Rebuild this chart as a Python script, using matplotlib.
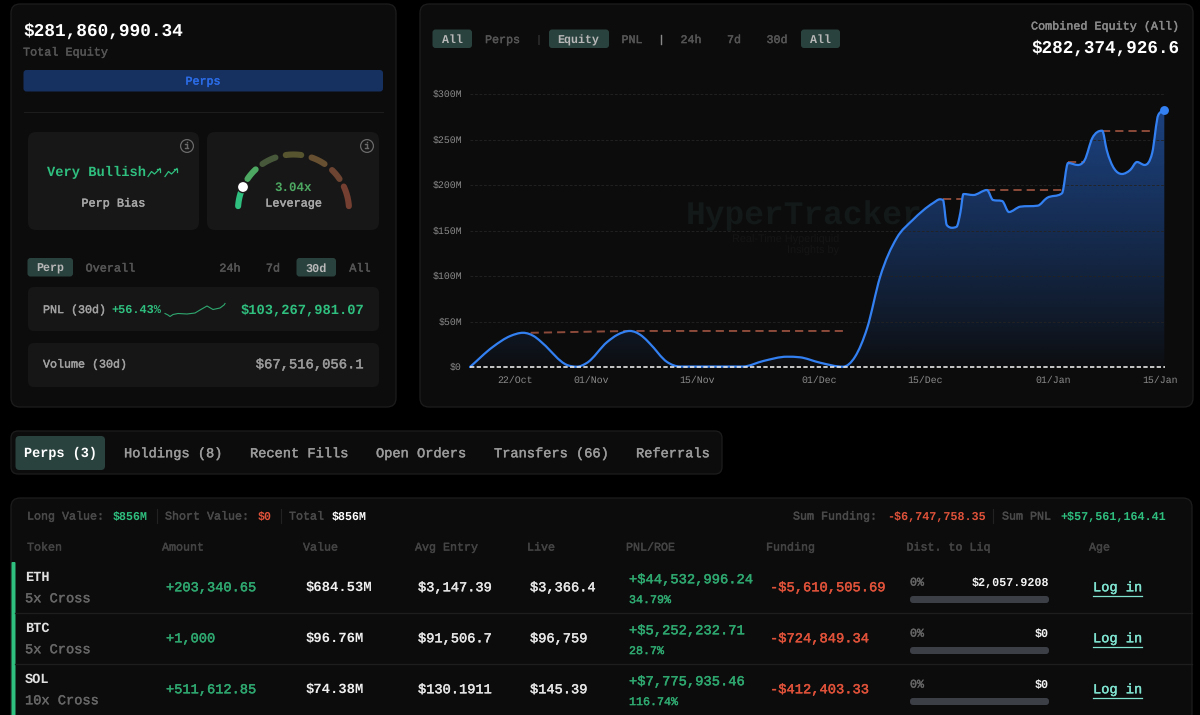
import numpy as np
import matplotlib
matplotlib.use("Agg")
import matplotlib.pyplot as plt
import matplotlib.patheffects as pe
from matplotlib.patches import FancyBboxPatch, PathPatch, Circle
from matplotlib.path import Path

plt.rcParams["text.hinting"] = "no_hinting"

# ---------- data ----------
days = [0, 3.0, 5.3, 7.0, 8.6, 9.6, 12.8, 14.1, 15.4, 18.1, 19.4, 21.1, 22.7, 23.7, 26.0, 27.7, 36.0, 38.7, 41.8, 43.5, 46.2,
        49.2, 50.8, 52.4, 54.1, 56.3, 58.4, 61.1, 62.0, 62.4, 62.9, 63.6, 64.2, 64.7, 65.1, 66.4, 68.2, 69.0,
        70.2, 71.1, 72.6, 74.9, 76.1, 78.1, 78.9, 80.2, 81.1, 82.1, 83.4, 84.0, 86.0, 87.1, 88.0, 89.0,
        90.0, 90.8, 91.6]
equity = [0, 22.0, 34.0, 37.6, 33.0, 26.0, 2.2, 0.3, 4.4, 27.5, 35.2, 39.6, 34.0, 26.0, 5.5, 0.5, 0.5, 6.6, 11.3, 10.7, 4.7,
          0.3, 11.3, 42.9, 98.9, 141.8, 161.5, 180.2, 184.3, 183.5, 156.0, 153.0, 154.2, 170.0, 190.1, 189.0, 194.5, 183.5,
          182.4, 170.3, 176.2, 177.3, 185.7, 190.9, 224.2, 222.0, 227.5, 251.6, 259.7, 238.5, 212.1, 216.5, 225.3, 222.0,
          235.2, 276.9, 282.4]
peak_days = [[8.0, 21.1, 49.2], [62.4, 64.9], [68.2, 78.1], [78.9, 81.1], [83.4, 89.7]]
peak_vals = [[37.6, 39.6, 39.6], [184.3, 184.3], [194.5, 194.5], [224.8, 224.8], [259.7, 259.7]]
y_ticks = [0, 50, 100, 150, 200, 250, 300]
y_labels = ["$0", "$50M", "$100M", "$150M", "$200M", "$250M", "$300M"]
x_ticks = [6, 16, 30, 46, 60, 77, 91]
x_labels = ["22/Oct", "01/Nov", "15/Nov", "01/Dec", "15/Dec", "01/Jan", "15/Jan"]

tabs = ["Holdings (8)", "Recent Fills", "Open Orders", "Transfers (66)", "Referrals"]
tab_x = [124, 250, 376, 494, 636]
headers = ["Token", "Amount", "Value", "Avg Entry", "Live", "PNL/ROE", "Funding", "Dist. to Liq", "Age"]
header_x = [27, 162, 303, 415, 527, 626, 766, 906.5, 1089]
tokens = ["ETH", "BTC", "SOL"]
margin = ["5x Cross", "5x Cross", "10x Cross"]
amounts = ["+203,340.65", "+1,000", "+511,612.85"]
values = ["$684.53M", "$96.76M", "$74.38M"]
entries = ["$3,147.39", "$91,506.7", "$130.1911"]
lives = ["$3,366.4", "$96,759", "$145.39"]
pnls = ["+$44,532,996.24", "+$5,252,232.71", "+$7,775,935.46"]
roes = ["34.79%", "28.7%", "116.74%"]
fundings = ["-$5,610,505.69", "-$724,849.34", "-$412,403.33"]
liqs = ["$2,057.9208", "$0", "$0"]

# ---------- style ----------
BG = "#0c0c0c"; CARD = "#171717"; PILL = "#2a423e"; GREEN = "#2fbf7f"; GREEN2 = "#2fa870"
RED = "#e0523a"; DIM = "#555555"; MID = "#9a9a9a"; BLUE = "#3380f2"; FONT = "Liberation Mono"
EDGE = "#1d1d1d"

fig = plt.figure(figsize=(12, 7.15), dpi=100, facecolor="#000000")
bgax = fig.add_axes([0, 0, 1, 1], zorder=0)
bgax.set_xlim(0, 1200); bgax.set_ylim(715, 0); bgax.axis("off")
fgax = fig.add_axes([0, 0, 1, 1], zorder=1)
fgax.set_xlim(0, 1200); fgax.set_ylim(715, 0); fgax.axis("off"); fgax.patch.set_alpha(0)


def box(x0, y0, x1, y1, fc, r=6, ec="none", lw=0, z=1):
    bgax.add_patch(FancyBboxPatch((x0, y0), x1 - x0, y1 - y0,
                                  boxstyle=f"round,pad=0,rounding_size={r}", fc=fc, ec=ec, lw=lw, zorder=z))


def T(x, y, s, cw=7.05, c="#ffffff", ha="left", bold=False, ax=fgax, fam=FONT, z=5):
    t = ax.text(x, y - 0.8, s, fontsize=cw / 0.6 * 0.72, color=c, ha=ha, va="center_baseline",
                family=fam, fontweight="bold" if bold else "normal", zorder=z)
    if not bold:
        t.set_path_effects([pe.withStroke(linewidth=0.3, foreground=c)])


# panels
box(11, 4, 396, 407, BG, r=9, ec=EDGE, lw=0.9)
box(420, 4, 1193, 407, BG, r=9, ec=EDGE, lw=0.9)
box(11, 431, 722, 474, BG, r=7, ec=EDGE, lw=0.9)
box(11, 498, 1192, 740, BG, r=9, ec=EDGE, lw=0.9)

# ---------- left panel ----------
T(23, 30, "$281,860,990.34", 10.67, bold=True)
T(23, 52, "Total Equity", 7.08, "#555555")
box(23.5, 70, 383, 91.5, "#16305f", r=3, z=2)
T(203, 81, "Perps", 7.0, "#2b6ce6", ha="center")
fgax.plot([24, 383], [111.5, 111.5], color=EDGE, lw=0.8)
box(28, 132, 199, 230, CARD, r=8, z=2)
box(207, 132, 379, 230, CARD, r=8, z=2)
for cx in (187, 367):
    fgax.add_patch(Circle((cx, 146), 6.4, fc="none", ec="#6a6a6a", lw=0.9))
    T(cx, 146.5, "i", 5.5, "#6a6a6a", ha="center")
T(47, 172, "Very Bullish", 8.25, GREEN, bold=True)
for ox in (148, 165):
    fgax.plot(np.array([0, 3.5, 6.5, 12]) + ox, [176.5, 171.5, 174, 168.5], color=GREEN, lw=0.9)
    fgax.plot(np.array([8.5, 12, 12]) + ox, [168.5, 168.5, 172], color=GREEN, lw=0.9)
T(113.5, 203, "Perp Bias", 7.1, "#a8a8a8", ha="center")

# gauge
segs = [(176, 154, "#2fbf7f"), (146, 133, "#4da862"), (124, 109, "#47583a"), (98, 82, "#56552f"),
        (71, 56, "#674f31"), (46, 34, "#6d4431"), (25, 4, "#743f31")]
for a0, a1, col in segs:
    a = np.radians(np.linspace(a0, a1, 24))
    fgax.plot(293.5 + 55.5 * np.cos(a), 210 - 55.5 * np.sin(a), color=col, lw=4.4, solid_capstyle="round", zorder=3)
fgax.add_patch(Circle((243, 187), 5.6, fc="#ffffff", ec="#1a1a1a", lw=1.0, zorder=4))
T(293.5, 187, "3.04x", 7.5, "#4da862", ha="center", bold=True)
T(293.5, 203, "Leverage", 7.08, "#a8a8a8", ha="center")

box(27.5, 258, 73, 276.5, PILL, r=3, z=2)
T(50, 268, "Perp", 6.95, "#b8b8b8", ha="center", bold=True)
T(110.5, 268, "Overall", 7.1, DIM, ha="center")
T(230, 268, "24h", 7.1, DIM, ha="center")
T(273, 268, "7d", 7.1, DIM, ha="center")
box(296.5, 258, 336, 276.5, PILL, r=3, z=2)
T(316, 268, "30d", 7.1, "#b8b8b8", ha="center", bold=True)
T(360, 268, "All", 7.1, DIM, ha="center")

box(28, 287, 379, 331, "#161616", r=6, z=2)
T(43, 309.5, "PNL (30d)", 7.0, "#a0a0a0")
T(111, 309.5, "+56.43%", 7.1, GREEN, bold=True)
spark_x = [165, 168, 170, 173, 178, 187, 195, 200, 207, 213, 220, 224, 225]
spark_y = [313.5, 315, 316.5, 314.5, 313.5, 314, 313, 310, 306, 309.5, 308, 305, 303.5]
fgax.plot(spark_x, spark_y, color=GREEN2, lw=0.8)
T(364, 309, "$103,267,981.07", 8.27, GREEN, ha="right", bold=True)
box(28, 343, 379, 387, "#161616", r=6, z=2)
T(43, 364, "Volume (30d)", 7.0, "#a0a0a0")
T(364, 364, "$67,516,056.1", 8.3, MID, ha="right")

# ---------- chart header ----------
for x0, x1, cx, s in [(432.5, 472, 452.5, "All"), (549, 609, 578.5, "Equity"), (801, 840, 820.5, "All")]:
    box(x0, 29.5, x1, 48, PILL, r=3, z=2)
    T(cx, 39.5, s, 7.0, "#b8b8b8", ha="center", bold=True)
for cx, s in [(502.5, "Perps"), (539, "|"), (632, "PNL"), (661.5, "|"), (691, "24h"), (734, "7d"), (777, "30d")]:
    T(cx, 39.5, s, 7.0, DIM if s != "|" else "#888888", ha="center")
T(1179, 26, "Combined Equity (All)", 7.05, "#8a8a8a", ha="right")
T(1180, 47, "$282,374,926.6", 10.6, bold=True, ha="right")

# watermark
T(686, 213, "HyperTracker", 19.75, "#131818", bold=True, ax=bgax, z=3)
bgax.text(839, 240, "Real-Time Hyperliquid", fontsize=7.8, color="#151515", ha="right", va="center", family="Liberation Sans", zorder=3)
bgax.text(839, 251, "Insights by", fontsize=7.8, color="#151515", ha="right", va="center", family="Liberation Sans", zorder=3)

# ---------- chart ----------
ax = fig.add_axes([470 / 1200, 1 - 367 / 715, 695 / 1200, 273 / 715], zorder=2)
ax.patch.set_alpha(0)
for sp in ax.spines.values():
    sp.set_visible(False)


def smooth_path(x, y):
    """Cubic Bezier through the points, tangents limited so extrema stay at the points."""
    x = np.asarray(x, float); y = np.asarray(y, float)
    h = np.diff(x); d = np.diff(y) / h
    m = np.zeros_like(x); m[0] = d[0]; m[-1] = d[-1]
    for i in range(1, len(x) - 1):
        if d[i - 1] * d[i] > 0:
            c = (h[i] * d[i - 1] + h[i - 1] * d[i]) / (h[i - 1] + h[i])
            m[i] = np.sign(c) * min(abs(c), 2.5 * abs(d[i - 1]), 2.5 * abs(d[i]))
    verts = [(x[0], y[0])]; codes = [Path.MOVETO]
    for i in range(len(h)):
        verts += [(x[i] + h[i] / 3, y[i] + m[i] * h[i] / 3),
                  (x[i + 1] - h[i] / 3, y[i + 1] - m[i + 1] * h[i] / 3), (x[i + 1], y[i + 1])]
        codes += [Path.CURVE4] * 3
    return verts, codes


verts, codes = smooth_path(days, equity)
area = Path(verts + [(days[-1], 0), (days[0], 0), (days[0], 0)], codes + [Path.LINETO, Path.LINETO, Path.CLOSEPOLY])
grad = np.zeros((256, 2, 4))
grad[..., 0] = 28 / 255; grad[..., 1] = 66 / 255; grad[..., 2] = 128 / 255
grad[..., 3] = (np.linspace(0.02, 1, 256) ** 0.85)[:, None]
im = ax.imshow(grad, origin="lower", aspect="auto", extent=(days[0], days[-1], 0, max(equity)), zorder=1, interpolation="bilinear")
im.set_clip_path(PathPatch(area, transform=ax.transData))
ax.set_xlim(0, 91.69); ax.set_ylim(0, 300)
ax.set_yticks(y_ticks, y_labels); ax.set_xticks(x_ticks, x_labels)
ax.tick_params(length=0, labelsize=7.1, labelcolor="#8a8a8a")
ax.tick_params(axis="y", pad=5.8); ax.tick_params(axis="x", pad=6)
for lab in ax.get_xticklabels() + ax.get_yticklabels():
    lab.set_family(FONT)
for lab in ax.get_yticklabels():
    lab.set_verticalalignment("center")
for v in y_ticks[1:]:
    ax.plot([0, 91.69], [v, v], color="#232323", lw=0.65, ls=(0, (3, 2)), zorder=2, clip_on=False)
for xs, ys in zip(peak_days, peak_vals):
    ax.plot(xs, ys, color="#8c4a3a", lw=1.4, ls=(0, (4.2, 2.6)), zorder=3, clip_on=False)
ax.plot([0, 91.69], [0, 0], color="#e6e6e6", lw=1.2, ls=(0, (2.6, 1.4)), zorder=5, clip_on=False)
ax.add_patch(PathPatch(Path(verts, codes), fc="none", ec=BLUE, lw=1.6, zorder=4, clip_on=False, capstyle="round", joinstyle="round"))
ax.plot(days[-1], equity[-1], "o", ms=6.4, color=BLUE, mec="none", zorder=6, clip_on=False)

# ---------- tabs ----------
box(15.5, 436, 105, 470, PILL, r=4, z=2)
T(60, 453, "Perps (3)", 8.1, "#ffffff", ha="center", bold=True)
for x, s in zip(tab_x, tabs):
    T(x, 453, s, 8.2, "#9a9a9a")

# ---------- table ----------
S = "#4a4a4a"
T(27, 516, "Long Value:", 7.0, S)
T(113, 516, "$856M", 7.0, GREEN, bold=True)
T(165, 516, "Short Value:", 7.0, S)
T(258, 516, "$0", 7.0, RED, bold=True)
T(289, 516, "Total", 7.0, S)
T(332, 516, "$856M", 7.0, "#ffffff", bold=True)
T(793, 516, "Sum Funding:", 7.0, S)
T(887, 516, "-$6,747,758.35", 7.07, RED, bold=True)
T(1002, 516, "Sum PNL", 7.0, S)
T(1060, 516, "+$57,561,164.41", 7.07, GREEN, bold=True)
for sx in (157, 281, 993):
    fgax.plot([sx, sx], [509, 523], color="#222222", lw=0.8)
for x, s in zip(header_x, headers):
    T(x, 547, s, 7.0, "#444444")

box(11.5, 562, 15.5, 732, GREEN, r=1, z=3)
for y in (613, 664):
    fgax.plot([15, 1192], [y, y], color="#1e1e1e", lw=0.9)
for i in range(3):
    dy = 51 * i
    T(25, 577 + dy, tokens[i], 8.2, "#e0e0e0", bold=True)
    T(25, 598 + dy, margin[i], 8.2, "#666666")
    T(166, 587 + dy, amounts[i], 8.2, GREEN2)
    T(306, 587 + dy, values[i], 8.3, "#f0f0f0", bold=True)
    T(418, 587 + dy, entries[i], 8.2, "#e6e6e6")
    T(530, 587 + dy, lives[i], 8.2, "#e6e6e6")
    T(629, 579 + dy, pnls[i], 8.27, GREEN2)
    T(629, 599.5 + dy, roes[i], 7.0, GREEN2)
    T(770, 587 + dy, fundings[i], 8.25, RED)
    T(910, 582 + dy, "0%", 7.0, "#666666")
    T(1049, 582 + dy, liqs[i], 7.06, "#f4f4f4", ha="right", bold=True)
    box(910, 596 + dy, 1049, 603 + dy, "#3d3f47", r=3, z=2)
    T(1093, 587 + dy, "Log in", 8.2, "#7fe3d0")
    fgax.plot([1093, 1142], [595.5 + dy, 595.5 + dy], color="#7fe3d0", lw=0.9)

fig.savefig("out.png", dpi=100, facecolor=fig.get_facecolor())
